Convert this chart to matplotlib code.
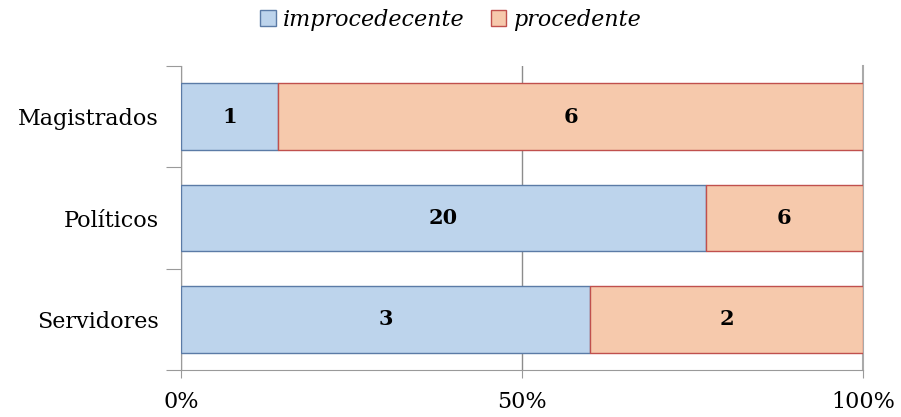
import matplotlib.pyplot as plt
import numpy as np

categories = ['Magistrados', 'Políticos', 'Servidores']
improcedecente = [1, 20, 3]
procedente = [6, 6, 2]
xtick_labels = ['0%', '50%', '100%']

plt.rcParams['font.family'] = 'DejaVu Serif'

imp = np.array(improcedecente, dtype=float)
pro = np.array(procedente, dtype=float)
tot = imp + pro
imp_frac = imp / tot
pro_frac = pro / tot

fig = plt.figure(figsize=(9.01, 4.17), dpi=100)
ax = fig.add_axes([0.2009, 0.1127, 0.757, 0.729])

y = np.arange(len(categories))
b1 = ax.barh(y, imp_frac, height=0.66, color='#BDD4EC', edgecolor='#5B7BA6',
             linewidth=1, label='improcedecente', zorder=3)
b2 = ax.barh(y, pro_frac, left=imp_frac, height=0.66, color='#F6C9AC',
             edgecolor='#C0504D', linewidth=1, label='procedente', zorder=3)

for i in range(len(categories)):
    ax.text(imp_frac[i] / 2, y[i], str(improcedecente[i]), ha='center', va='center',
            fontsize=15, fontweight='bold', zorder=4)
    ax.text(imp_frac[i] + pro_frac[i] / 2, y[i], str(procedente[i]), ha='center',
            va='center', fontsize=15, fontweight='bold', zorder=4)

ax.set_xlim(0, 1)
ax.set_ylim(2.5, -0.5)

gray = '#9A9A9A'
for s in ['top', 'right']:
    ax.spines[s].set_visible(False)
for s in ['left', 'bottom']:
    ax.spines[s].set_color(gray)

ax.set_xticks([0, 0.5, 1])
ax.set_xticklabels(xtick_labels, fontsize=16)
ax.tick_params(axis='x', direction='out', length=6, color=gray, pad=9)
ax.xaxis.grid(True, color='#8C8C8C', linewidth=1, zorder=0)
ax.axvline(1, color='#AAAAAA', linewidth=1.5, zorder=2, clip_on=False)

ax.set_yticks([-0.5, 0.5, 1.5, 2.5])
ax.set_yticklabels([])
ax.tick_params(axis='y', which='major', direction='out', length=11, color=gray)
ax.set_yticks(y, minor=True)
ax.set_yticklabels(categories, minor=True, fontsize=16)
ax.tick_params(axis='y', which='minor', length=0, pad=16)

leg = fig.legend(handles=[b1, b2], loc='center', bbox_to_anchor=(0.5, 0.952), ncol=2,
                 frameon=False, prop={'style': 'italic', 'size': 16},
                 handlelength=0.7, handleheight=0.7, handletextpad=0.3, columnspacing=1.2)

fig.savefig('out.png', dpi=100)
